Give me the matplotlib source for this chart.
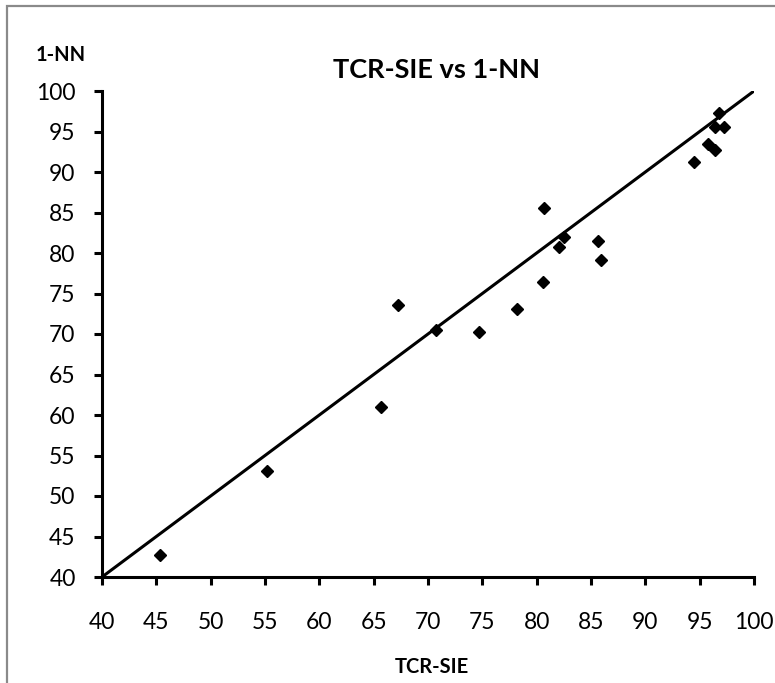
import matplotlib
matplotlib.use('Agg')
import matplotlib.pyplot as plt
from matplotlib.patches import Rectangle

plt.rcParams['font.family'] = ['Lato', 'DejaVu Sans']

# TCR-SIE accuracy (x) vs 1-NN accuracy (y)
tcr_sie = [45.3, 55.2, 65.7, 67.2, 70.7, 74.7, 78.2, 80.6, 80.7, 82.1,
           82.5, 85.6, 85.9, 94.5, 95.8, 96.4, 96.4, 96.8, 97.2]
one_nn = [42.7, 53.1, 61.0, 73.6, 70.5, 70.3, 73.1, 76.4, 85.6, 80.7,
          82.0, 81.5, 79.1, 91.2, 93.4, 92.7, 95.6, 97.3, 95.5]

# reference line y = x
line_x = [40, 100]
line_y = [40, 100]

ticks = list(range(40, 101, 5))

W, H = 775, 683
fig = plt.figure(figsize=(W / 100, H / 100), dpi=100)

# chart border (cut off at right and bottom like the screenshot)
fig.patches.append(Rectangle((7 / W, -0.05), 1.1, 1 - 6 / H + 0.05,
                             transform=fig.transFigure, fill=False,
                             edgecolor='#8a8a8a', linewidth=1.6))

ax = fig.add_axes([102 / W, 1 - 577 / H, (754 - 102) / W, (577 - 91) / H])
ax.plot(line_x, line_y, color='black', linewidth=2.2, solid_capstyle='butt')
ax.plot(tcr_sie, one_nn, linestyle='none', marker='D', markersize=6.3,
        color='black')

ax.set_xlim(40, 100)
ax.set_ylim(40, 100)
ax.set_xticks(ticks)
ax.set_yticks(ticks)
ax.tick_params(direction='out', length=6, width=2.2, labelsize=16.5)
ax.tick_params(axis='y', pad=13)
ax.tick_params(axis='x', pad=19)

for side in ['top', 'right']:
    ax.spines[side].set_visible(False)
for side in ['left', 'bottom']:
    ax.spines[side].set_linewidth(2.2)

fig.text(436 / W, 1 - 70 / H, 'TCR-SIE vs 1-NN', ha='center', va='center',
         fontsize=19.5, fontweight='bold')
fig.text(36 / W, 1 - 55 / H, '1-NN', ha='left', va='center',
         fontsize=14.5, fontweight='bold')
fig.text(432 / W, 1 - 667 / H, 'TCR-SIE', ha='center', va='center',
         fontsize=14.5, fontweight='bold')

fig.savefig('out.png', dpi=100)
